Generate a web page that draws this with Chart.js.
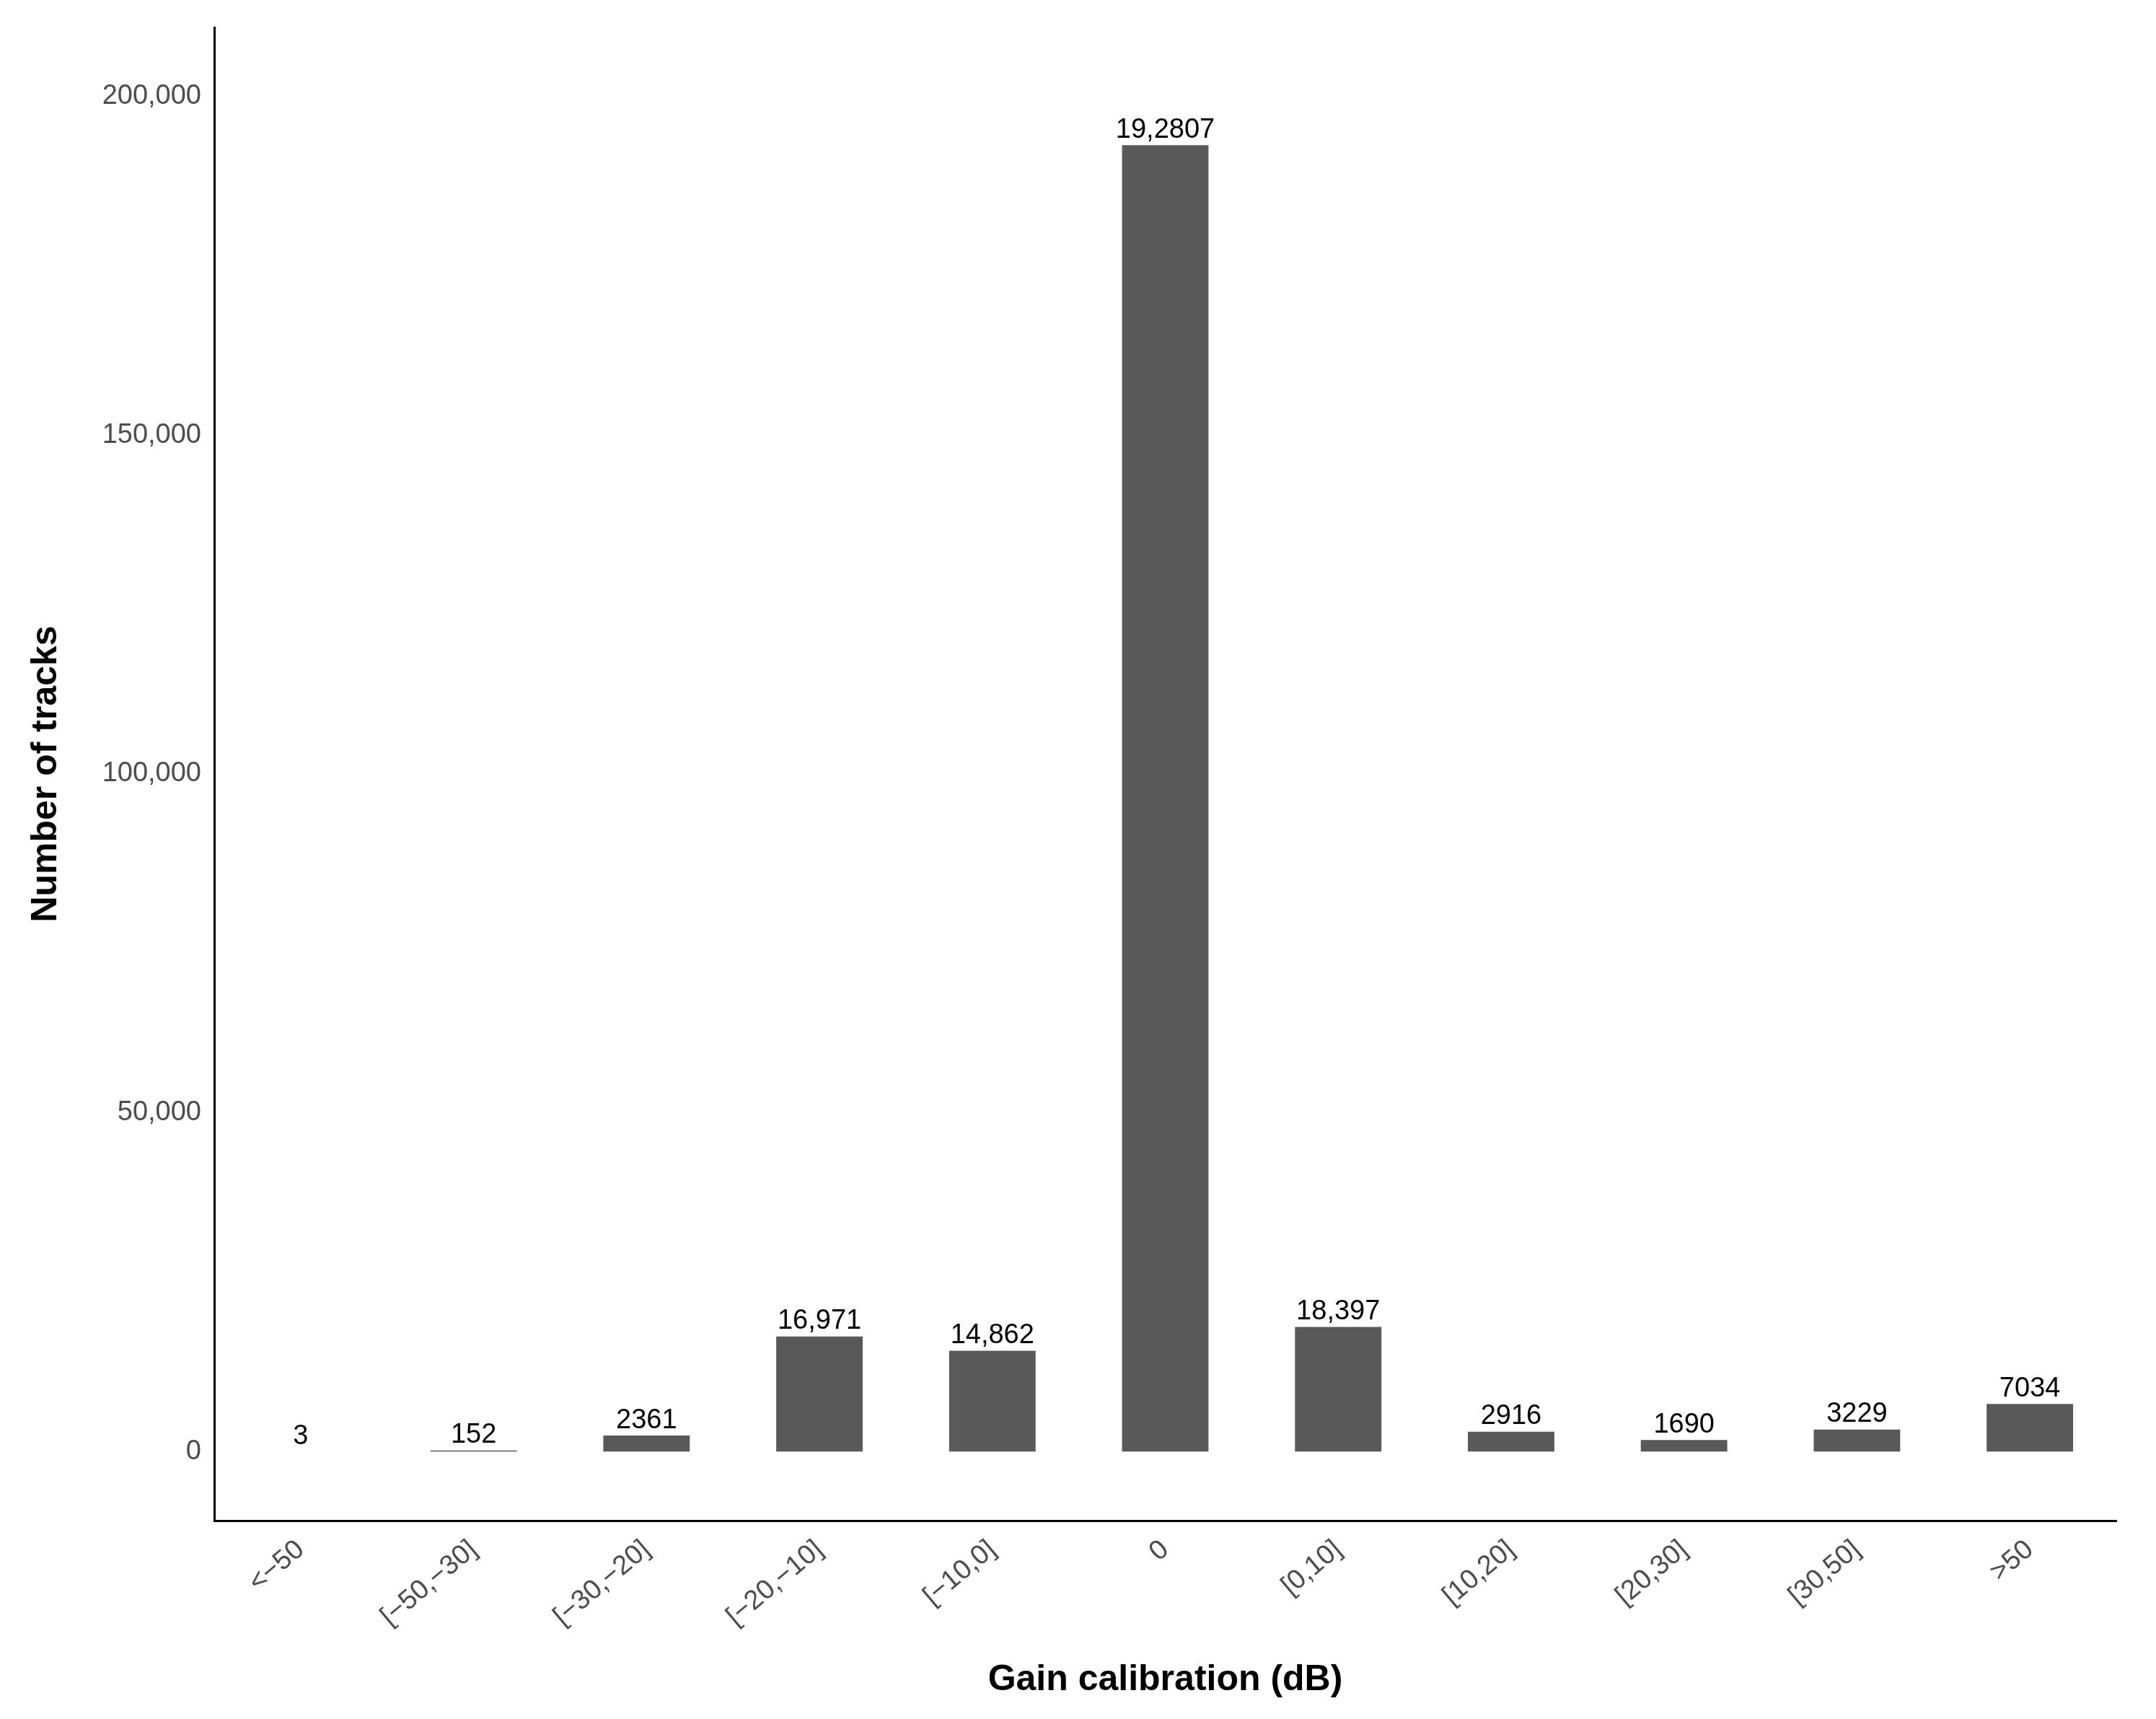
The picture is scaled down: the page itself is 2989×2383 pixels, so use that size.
<!DOCTYPE html>
<html><head><meta charset="utf-8">
<script src="https://cdn.jsdelivr.net/npm/chart.js@4"></script>
<style>html,body{margin:0;padding:0;background:#fff}#wrap{width:2989px;height:2383px}</style>
</head><body><div id="wrap"><canvas id="c"></canvas></div>
<script>
const categories = ['<−50', '[−50,−30]', '[−30,−20]', '[−20,−10]', '[−10,0]', '0', '[0,10]', '[10,20]', '[20,30]', '[30,50]', '>50'];
const tracks = [3, 152, 2361, 16971, 14862, 192807, 18397, 2916, 1690, 3229, 7034];
const barLabels = ['3', '152', '2361', '16,971', '14,862', '19,2807', '18,397', '2916', '1690', '3229', '7034'];
const yTicks = [0, 50000, 100000, 150000, 200000];

const font = "Arial, 'Liberation Sans', sans-serif";

new Chart(document.getElementById('c'), {
    type: 'bar',
    data: {
        labels: categories,
        datasets: [{ data: tracks, backgroundColor: '#595959', barPercentage: 0.5, categoryPercentage: 1 }]
    },
    options: {
        responsive: true,
        maintainAspectRatio: false,
        animation: false,
        layout: { padding: { left: 30, right: 55, top: 38, bottom: 20 } },
        plugins: { legend: { display: false }, tooltip: { enabled: false } },
        scales: {
            x: {
                offset: true,
                grid: { display: false, drawTicks: true, tickLength: 12, tickColor: '#000', tickWidth: 3 },
                border: { color: '#000', width: 3 },
                ticks: { color: '#4d4d4d', font: { family: font, size: 38 }, maxRotation: 40, minRotation: 40, padding: 6 },
                title: { display: true, text: 'Gain calibration (dB)', color: '#000', font: { family: font, size: 50, weight: 'bold' }, padding: { top: 10 } },
                afterFit: s => { s.height = 255; }
            },
            y: {
                min: -10200,
                max: 210200,
                afterBuildTicks: s => { s.ticks = yTicks.map(v => ({ value: v })); },
                grid: { display: false, drawTicks: true, tickLength: 12, tickColor: '#000', tickWidth: 3 },
                border: { color: '#000', width: 3 },
                ticks: { color: '#4d4d4d', font: { family: font, size: 38 }, padding: 6, callback: v => v.toLocaleString('en-US') },
                title: { display: true, text: 'Number of tracks', color: '#000', font: { family: font, size: 50, weight: 'bold' }, padding: { bottom: 40 } },
                afterFit: s => { s.width = 267; }
            }
        }
    },
    plugins: [{
        id: 'barValues',
        afterDatasetsDraw: function(chart) {
            const ctx = chart.ctx;
            const meta = chart.getDatasetMeta(0);
            ctx.save();
            ctx.font = '38px ' + font;
            ctx.fillStyle = '#000';
            ctx.textAlign = 'center';
            ctx.textBaseline = 'bottom';
            meta.data.forEach((bar, i) => {
                ctx.fillText(barLabels[i], bar.x, bar.y - 2);
            });
            ctx.restore();
        }
    }]
});
</script></body></html>
